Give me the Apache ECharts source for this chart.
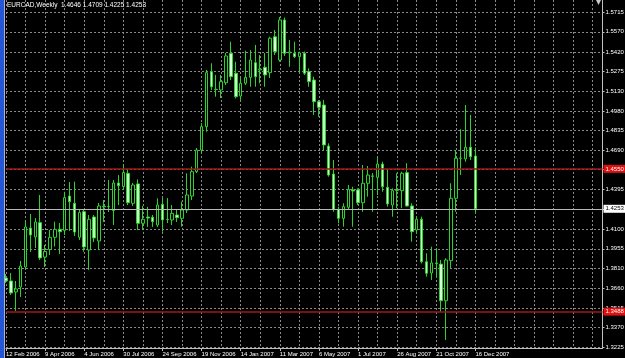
<!DOCTYPE html>
<html><head><meta charset="utf-8">
<script src="https://cdn.jsdelivr.net/npm/echarts@6/dist/echarts.min.js"></script>
<style>html,body{margin:0;padding:0;background:#000;}#c{width:625px;height:358px;}</style>
</head><body><div id="c"></div><script>
const titleText = 'EURCAD,Weekly  1.4646 1.4709 1.4225 1.4253';
const dateLabels = ['12 Feb 2006','9 Apr 2006','4 Jun 2006','30 Jul 2006','24 Sep 2006','19 Nov 2006','14 Jan 2007','11 Mar 2007','6 May 2007','1 Jul 2007','26 Aug 2007','21 Oct 2007','16 Dec 2007'];
const opens = [1.3738,1.3716,1.3634,1.3671,1.3820,1.4110,1.4043,1.4150,1.3894,1.3950,1.4041,1.4100,1.4092,1.4348,1.4294,1.4041,1.4231,1.3946,1.4192,1.4013,1.4270,1.4268,1.4240,1.4445,1.4419,1.4517,1.4294,1.4438,1.4145,1.4192,1.4190,1.4132,1.4286,1.4175,1.4170,1.4207,1.4182,1.4244,1.4348,1.4529,1.4690,1.4864,1.5273,1.5142,1.5137,1.5191,1.5410,1.5261,1.5092,1.5187,1.5231,1.5340,1.5286,1.5306,1.5266,1.5533,1.5360,1.5658,1.5412,1.5410,1.5385,1.5410,1.5273,1.5211,1.5050,1.5025,1.4720,1.4512,1.4249,1.4182,1.4264,1.4393,1.4393,1.4298,1.4443,1.4497,1.4487,1.4586,1.4413,1.4281,1.4388,1.4388,1.4522,1.4274,1.4095,1.4175,1.3859,1.3775,1.3850,1.3842,1.3569,1.3867,1.4331,1.4629,1.4624,1.4711,1.4646];
const closes = [1.3716,1.3627,1.3656,1.3827,1.4118,1.4058,1.4155,1.3887,1.3935,1.4040,1.4100,1.4083,1.4336,1.4306,1.4080,1.4225,1.3969,1.4175,1.4036,1.4274,1.4267,1.4270,1.4445,1.4425,1.4523,1.4298,1.4430,1.4145,1.4175,1.4184,1.4157,1.4281,1.4170,1.4173,1.4219,1.4187,1.4244,1.4356,1.4529,1.4690,1.4864,1.5266,1.5161,1.5141,1.5199,1.5390,1.5236,1.5087,1.5187,1.5231,1.5360,1.5236,1.5293,1.5249,1.5522,1.5422,1.5658,1.5410,1.5420,1.5385,1.5412,1.5261,1.5199,1.5050,1.5008,1.4728,1.4504,1.4249,1.4182,1.4269,1.4398,1.4385,1.4298,1.4443,1.4504,1.4495,1.4586,1.4417,1.4289,1.4388,1.4389,1.4517,1.4274,1.4083,1.4175,1.3859,1.3773,1.3850,1.3846,1.3569,1.3872,1.4331,1.4629,1.4631,1.4711,1.4641,1.4253];
const lows = [1.3701,1.3612,1.3493,1.3597,1.3812,1.3932,1.3961,1.3872,1.3820,1.3909,1.3972,1.3917,1.4058,1.4088,1.4051,1.4021,1.3934,1.3798,1.4006,1.3946,1.4155,1.4229,1.4132,1.4281,1.4393,1.4281,1.4274,1.4095,1.4095,1.4118,1.4118,1.4118,1.4083,1.4147,1.4132,1.4155,1.4120,1.4222,1.4318,1.4519,1.4668,1.4827,1.5137,1.5087,1.5077,1.5174,1.5211,1.5075,1.5063,1.5174,1.5161,1.5161,1.5187,1.5161,1.5226,1.5397,1.5347,1.5390,1.5310,1.5375,1.5273,1.5249,1.5161,1.4951,1.4938,1.4690,1.4492,1.4231,1.4145,1.4120,1.4244,1.4120,1.4281,1.4231,1.4343,1.4231,1.4356,1.4380,1.4269,1.4194,1.4257,1.4257,1.4269,1.4008,1.4071,1.3847,1.3748,1.3723,1.3748,1.3487,1.3277,1.3812,1.4231,1.4504,1.4603,1.4616,1.4225];
const highs = [1.3768,1.3775,1.3716,1.3865,1.4155,1.4214,1.4184,1.4356,1.3984,1.4095,1.4157,1.4147,1.4380,1.4452,1.4455,1.4244,1.4244,1.4207,1.4207,1.4296,1.4318,1.4467,1.4467,1.4504,1.4586,1.4542,1.4445,1.4472,1.4274,1.4267,1.4207,1.4331,1.4333,1.4333,1.4281,1.4244,1.4306,1.4517,1.4566,1.4705,1.4891,1.5286,1.5336,1.5249,1.5249,1.5412,1.5496,1.5347,1.5226,1.5429,1.5434,1.5472,1.5397,1.5412,1.5533,1.5583,1.5680,1.5676,1.5509,1.5496,1.5422,1.5422,1.5298,1.5236,1.5063,1.5063,1.4740,1.4616,1.4269,1.4294,1.4430,1.4417,1.4405,1.4579,1.4571,1.4519,1.4641,1.4603,1.4542,1.4405,1.4517,1.4529,1.4592,1.4294,1.4194,1.4194,1.3922,1.3971,1.3961,1.3872,1.3885,1.4443,1.4690,1.4845,1.5025,1.4951,1.4709];
const priceTicks = [1.3225,1.3370,1.3515,1.3660,1.3810,1.3955,1.4100,1.4250,1.4395,1.4545,1.4690,1.4835,1.4980,1.5130,1.5275,1.5420,1.5570,1.5715];
const priceLabels = [1.3225,1.3370,1.3515,1.3660,1.3810,1.3955,1.4100,1.4395,1.4690,1.4835,1.4980,1.5130,1.5275,1.5420,1.5570,1.5715];
const levelLines = [1.4550, 1.3488];
const bidPrice = 1.4253;
const emptySlots = 26;

const cats = [];
for (let i = 0; i < opens.length + emptySlots; i++) cats.push(String(i));
const candleData = opens.map((o, i) => [o, closes[i], lows[i], highs[i]]);
const isDateIdx = (i) => i % 8 === 0 && (i / 8) < dateLabels.length;
const FONT = 'Liberation Sans';

const chart = echarts.init(document.getElementById('c'), null, {renderer: 'canvas'});
chart.setOption({
  backgroundColor: '#000000',
  animation: false,
  grid: {left: 6, right: 22.5, top: 0, bottom: 10, containLabel: false, outerBoundsMode: 'none'},
  xAxis: {
    type: 'category', data: cats, boundaryGap: false,
    axisLine: {show: true, lineStyle: {color: '#c0c0c0', width: 1}},
    axisTick: {show: true, interval: isDateIdx, length: 3, lineStyle: {color: '#c0c0c0'}},
    axisLabel: {interval: isDateIdx, formatter: (v, i) => dateLabels[i / 8] || '', color: '#ffffff',
      fontSize: 6, fontFamily: FONT, align: 'left', margin: 3},
    splitLine: {show: true, interval: (i) => i % 4 === 0, lineStyle: {color: '#8a8a8a', type: [2, 2], width: 1}}
  },
  yAxis: {
    type: 'value', position: 'right', min: 1.32172, max: 1.58065, scale: true,
    axisLine: {show: true, lineStyle: {color: '#c0c0c0', width: 1}},
    axisTick: {show: true, length: 2, customValues: priceTicks, lineStyle: {color: '#c0c0c0'}},
    axisLabel: {customValues: priceLabels, formatter: (v) => v.toFixed(4), color: '#ffffff',
      fontSize: 6, fontFamily: FONT, margin: 3},
    splitLine: {show: true, lineStyle: {color: '#8a8a8a', type: [2, 2], width: 1}}
  },
  series: [{
    type: 'candlestick', data: candleData, barWidth: 3,
    itemStyle: {color: '#000000', color0: '#d4ffd4', borderColor: '#2ad42a', borderColor0: '#2ad42a', borderWidth: 1},
    markLine: {
      symbol: 'none', silent: true, animation: false, precision: 4,
      data: [
        {yAxis: levelLines[0], lineStyle: {color: '#a01818', width: 1.5, type: 'solid'},
         label: {show: true, position: 'end', formatter: levelLines[0].toFixed(4), color: '#ffffff', backgroundColor: '#e01010', padding: [1, 2], fontSize: 6, fontFamily: FONT, distance: 1}},
        {yAxis: levelLines[1], lineStyle: {color: '#a01818', width: 1.5, type: 'solid'},
         label: {show: true, position: 'end', formatter: levelLines[1].toFixed(4), color: '#ffffff', backgroundColor: '#e01010', padding: [1, 2], fontSize: 6, fontFamily: FONT, distance: 1}},
        {yAxis: bidPrice, lineStyle: {color: '#b8b8b8', width: 1, type: 'solid'},
         label: {show: true, position: 'end', formatter: bidPrice.toFixed(4), color: '#000000', backgroundColor: '#ffffff', padding: [1, 2], fontSize: 6, fontFamily: FONT, distance: 1}}
      ]
    }
  }],
  graphic: [
    {type: 'rect', shape: {x: 0, y: 0, width: 4, height: 358}, style: {fill: '#2456d6'}, z: 100},
    {type: 'rect', shape: {x: 4, y: 0, width: 1, height: 358}, style: {fill: '#a8b4d0'}, z: 100},
    {type: 'text', left: 7, top: 2, style: {text: titleText, fill: '#ffffff', fontSize: 6.5, fontFamily: FONT}, z: 100},
    {type: 'polygon', shape: {points: [[596, 0], [601, 0], [598.5, 5]]}, style: {fill: '#c8c8c8'}, z: 100}
  ]
});
</script></body></html>
